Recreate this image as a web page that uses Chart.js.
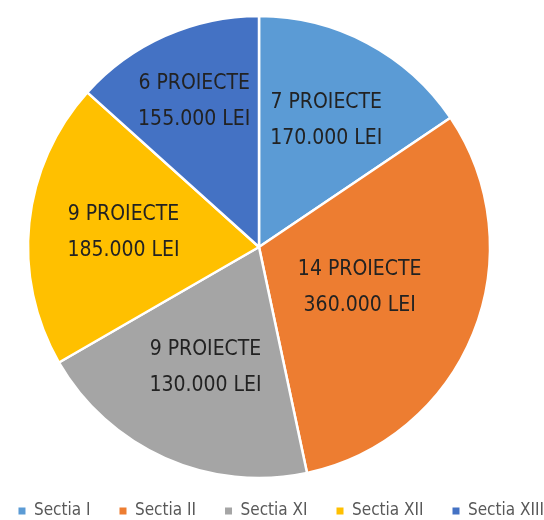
<!DOCTYPE html>
<html><head><meta charset="utf-8">
<script src="https://cdn.jsdelivr.net/npm/chart.js@4.4.1/dist/chart.umd.min.js"></script>
<style>
html,body{margin:0;padding:0;background:#fff;overflow:hidden;width:544px;height:520px;position:relative;}
#wrap{position:absolute;left:-55px;top:0;width:628px;height:540px;}
</style></head><body>
<div id="wrap"><canvas id="c" width="628" height="540"></canvas></div>
<script>
const categories = ['Sectia I', 'Sectia II', 'Sectia XI', 'Sectia XII', 'Sectia XIII'];
const projectCounts = [7, 14, 9, 9, 6];
const amountsLei = [170000, 360000, 130000, 185000, 155000];
const sliceColors = ['#5B9BD5', '#ED7D31', '#A5A5A5', '#FFC000', '#4472C4'];
const labelRadiusFactors = [0.62, 0.47, 0.57, 0.59, 0.69];

const FONT = '"DejaVu Sans Condensed", "Liberation Sans Narrow", "Open Sans", sans-serif';
const fmt = n => n.toString().replace(/\B(?=(\d{3})+(?!\d))/g, '.');

const sliceLabels = {
  id: 'sliceLabels',
  afterDatasetsDraw(chart) {
    const ctx = chart.ctx;
    const meta = chart.getDatasetMeta(0);
    ctx.save();
    ctx.font = '21px ' + FONT;
    ctx.fillStyle = '#222222';
    ctx.textAlign = 'center';
    ctx.textBaseline = 'middle';
    meta.data.forEach((arc, i) => {
      const p = arc.getProps(['x', 'y', 'startAngle', 'endAngle', 'outerRadius'], true);
      const mid = (p.startAngle + p.endAngle) / 2;
      const r = p.outerRadius * labelRadiusFactors[i];
      const cx = p.x + Math.cos(mid) * r;
      const cy = p.y + Math.sin(mid) * r;
      ctx.fillText(projectCounts[i] + ' PROIECTE', cx, cy - 18);
      ctx.fillText(fmt(amountsLei[i]) + ' LEI', cx, cy + 18);
    });
    ctx.restore();
  }
};

const baseGen = Chart.overrides.doughnut.plugins.legend.labels.generateLabels;

new Chart(document.getElementById('c'), {
  type: 'pie',
  data: {
    labels: categories,
    datasets: [{
      data: projectCounts,
      backgroundColor: sliceColors,
      borderColor: '#ffffff',
      borderWidth: 2.5,
      radius: 231,
      clip: false
    }]
  },
  options: {
    responsive: false,
    animation: false,
    devicePixelRatio: 1,
    layout: { padding: { top: 20.5, bottom: 10.5, left: 0, right: 0 } },
    plugins: {
      tooltip: { enabled: false },
      legend: {
        position: 'bottom',
        align: 'end',
        labels: {
          boxWidth: 7,
          boxHeight: 7,
          padding: 29,
          color: '#595959',
          font: { size: 17, family: FONT },
          generateLabels(chart) {
            const items = baseGen(chart);
            items.forEach(it => { it.lineWidth = 0; it.strokeStyle = 'rgba(0,0,0,0)'; });
            return items;
          }
        }
      }
    }
  },
  plugins: [sliceLabels]
});
</script>
</body></html>
